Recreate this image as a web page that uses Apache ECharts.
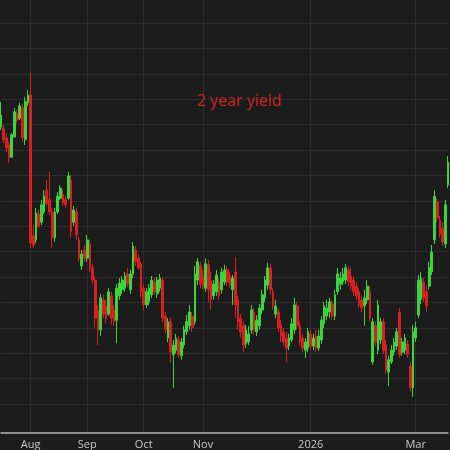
<!DOCTYPE html>
<html>
<head>
<meta charset="utf-8">
<script src="https://cdn.jsdelivr.net/npm/echarts@6/dist/echarts.min.js"></script>
<style>
  html, body { margin: 0; padding: 0; background: #1c1c1c; }
  #chart { width: 450px; height: 450px; }
</style>
</head>
<body>
<div id="chart"></div>
<script>
// daily candles, 17 Jul 2025 .. 18 Mar 2026 (trading days only)
var startDate = '2025-07-17';
var endDate = '2026-03-18';
var holidays = ['2025-09-01', '2025-10-13', '2025-11-11', '2025-11-27',
                '2025-12-25', '2026-01-01', '2026-01-19', '2026-02-16'];
var monthNames = ['Jan', 'Feb', 'Mar', 'Apr', 'May', 'Jun', 'Jul', 'Aug', 'Sep', 'Oct', 'Nov', 'Dec'];
// only these months get a label / vertical grid line
var tickLabels = ['Aug', 'Sep', 'Oct', 'Nov', '2026', 'Mar'];

var opens = [
  3.945, 3.943, 3.924, 3.910, 3.886, 3.926, 3.971, 3.963, 3.983, 3.920, 3.993,
  4.008, 3.731, 3.723, 3.774, 3.758, 3.778, 3.821, 3.802, 3.778, 3.727, 3.778,
  3.805, 3.813, 3.802, 3.805, 3.841, 3.758, 3.778, 3.723, 3.672, 3.703,
  3.687, 3.715, 3.668, 3.644, 3.585, 3.546, 3.605, 3.593, 3.577, 3.613, 3.585,
  3.565, 3.613, 3.625, 3.628, 3.656, 3.625, 3.656, 3.703, 3.687, 3.676,
  3.628, 3.595, 3.601, 3.615, 3.640, 3.617, 3.628, 3.644, 3.573, 3.530, 3.562,
  3.497, 3.506, 3.526, 3.495, 3.516, 3.542, 3.554, 3.573, 3.562, 3.644, 3.672,
  3.652, 3.628, 3.674, 3.644, 3.613, 3.621, 3.640, 3.625, 3.640, 3.664, 3.652,
  3.625, 3.660, 3.605, 3.569, 3.554, 3.518, 3.522,
  3.546, 3.581, 3.542, 3.554, 3.585, 3.609, 3.634, 3.668, 3.621, 3.577, 3.581,
  3.556, 3.542, 3.530, 3.514, 3.526, 3.546, 3.593, 3.554, 3.530,
  3.506, 3.510,
  3.538, 3.514, 3.534, 3.510, 3.526, 3.558, 3.573, 3.581, 3.597, 3.573, 3.621,
  3.636, 3.640, 3.644, 3.664, 3.652, 3.644, 3.632, 3.621, 3.605,
  3.593, 3.605, 3.621, 3.483, 3.554, 3.506, 3.526, 3.562, 3.516, 3.463, 3.483,
  3.502, 3.514, 3.581, 3.502, 3.506, 3.518, 3.475, 3.432,
  3.530, 3.575, 3.605, 3.640, 3.621, 3.632, 3.660, 3.723, 3.798, 3.762, 3.746,
  3.715, 3.831
];
var closes = [
  3.969, 3.920, 3.904, 3.884, 3.930, 3.975, 3.959, 3.987, 3.924, 3.995, 4.008,
  3.717, 3.713, 3.776, 3.750, 3.792, 3.809, 3.794, 3.778, 3.727, 3.778, 3.809,
  3.825, 3.796, 3.792, 3.849, 3.739, 3.782, 3.733, 3.687, 3.695, 3.687,
  3.723, 3.668, 3.644, 3.569, 3.546, 3.609, 3.577, 3.569, 3.621, 3.569, 3.562,
  3.628, 3.638, 3.644, 3.652, 3.636, 3.656, 3.711, 3.680, 3.668, 3.621,
  3.595, 3.621, 3.628, 3.644, 3.621, 3.644, 3.648, 3.569, 3.546, 3.562, 3.502,
  3.516, 3.530, 3.497, 3.522, 3.546, 3.562, 3.581, 3.550, 3.656, 3.680, 3.636,
  3.632, 3.676, 3.625, 3.605, 3.636, 3.654, 3.613, 3.660, 3.664, 3.640, 3.634,
  3.648, 3.595, 3.562, 3.542, 3.516, 3.546, 3.538,
  3.585, 3.546, 3.565, 3.589, 3.615, 3.644, 3.668, 3.625, 3.593, 3.593, 3.550,
  3.534, 3.522, 3.510, 3.530, 3.558, 3.595, 3.554, 3.522, 3.510,
  3.522, 3.542,
  3.514, 3.530, 3.510, 3.534, 3.565, 3.593, 3.589, 3.601, 3.573, 3.615, 3.656,
  3.648, 3.656, 3.668, 3.640, 3.632, 3.621, 3.613, 3.595, 3.589,
  3.609, 3.632, 3.569, 3.562, 3.522, 3.595, 3.562, 3.506, 3.467, 3.487, 3.506,
  3.522, 3.542, 3.497, 3.522, 3.530, 3.497, 3.432, 3.542,
  3.550, 3.644, 3.648, 3.609, 3.593, 3.668, 3.699, 3.809, 3.766, 3.735, 3.719,
  3.792, 3.876
];
var lows = [
  3.939, 3.914, 3.896, 3.874, 3.884, 3.924, 3.953, 3.959, 3.916, 3.910, 3.987,
  3.707, 3.707, 3.717, 3.746, 3.752, 3.774, 3.790, 3.772, 3.707, 3.719, 3.774,
  3.802, 3.790, 3.786, 3.802, 3.727, 3.750, 3.723, 3.680, 3.664, 3.680,
  3.680, 3.660, 3.636, 3.550, 3.516, 3.534, 3.569, 3.558, 3.573, 3.556, 3.554,
  3.520, 3.605, 3.617, 3.621, 3.630, 3.617, 3.648, 3.672, 3.664, 3.609,
  3.585, 3.589, 3.595, 3.609, 3.615, 3.609, 3.621, 3.562, 3.538, 3.522, 3.481,
  3.432, 3.500, 3.491, 3.487, 3.510, 3.536, 3.546, 3.542, 3.556, 3.634, 3.628,
  3.625, 3.621, 3.601, 3.585, 3.605, 3.613, 3.605, 3.617, 3.634, 3.632, 3.628,
  3.595, 3.569, 3.546, 3.530, 3.502, 3.510, 3.516,
  3.538, 3.536, 3.534, 3.546, 3.577, 3.601, 3.625, 3.615, 3.585, 3.569, 3.542,
  3.522, 3.514, 3.483, 3.506, 3.522, 3.538, 3.546, 3.514, 3.502,
  3.491, 3.502,
  3.506, 3.506, 3.502, 3.504, 3.518, 3.550, 3.565, 3.569, 3.565, 3.565, 3.615,
  3.625, 3.634, 3.636, 3.632, 3.625, 3.613, 3.605, 3.589, 3.581,
  3.554, 3.597, 3.562, 3.477, 3.514, 3.498, 3.518, 3.498, 3.459, 3.435, 3.479,
  3.495, 3.506, 3.491, 3.495, 3.498, 3.491, 3.424, 3.414,
  3.522, 3.569, 3.597, 3.601, 3.581, 3.625, 3.654, 3.715, 3.758, 3.727, 3.711,
  3.707, 3.825
];
var highs = [
  3.995, 3.949, 3.933, 3.916, 3.933, 3.983, 3.979, 3.993, 3.991, 4.004, 4.018,
  4.052, 3.752, 3.786, 3.782, 3.802, 3.821, 3.841, 3.857, 3.786, 3.786, 3.817,
  3.831, 3.821, 3.809, 3.857, 3.851, 3.790, 3.786, 3.729, 3.703, 3.713,
  3.733, 3.723, 3.676, 3.652, 3.595, 3.617, 3.615, 3.605, 3.628, 3.621, 3.595,
  3.636, 3.648, 3.652, 3.660, 3.668, 3.664, 3.719, 3.711, 3.695, 3.680,
  3.636, 3.628, 3.636, 3.652, 3.648, 3.650, 3.656, 3.650, 3.581, 3.569, 3.569,
  3.526, 3.538, 3.534, 3.530, 3.554, 3.575, 3.595, 3.581, 3.672, 3.687, 3.680,
  3.664, 3.687, 3.684, 3.660, 3.644, 3.664, 3.648, 3.668, 3.674, 3.672, 3.660,
  3.654, 3.689, 3.613, 3.577, 3.562, 3.556, 3.554,
  3.595, 3.589, 3.575, 3.597, 3.625, 3.652, 3.678, 3.676, 3.628, 3.605, 3.589,
  3.565, 3.550, 3.542, 3.538, 3.569, 3.609, 3.601, 3.562, 3.538,
  3.530, 3.550,
  3.546, 3.538, 3.546, 3.546, 3.573, 3.601, 3.605, 3.609, 3.605, 3.625, 3.668,
  3.660, 3.668, 3.676, 3.672, 3.668, 3.652, 3.640, 3.628, 3.615,
  3.625, 3.644, 3.632, 3.569, 3.562, 3.605, 3.569, 3.569, 3.526, 3.495, 3.516,
  3.530, 3.550, 3.589, 3.530, 3.538, 3.526, 3.483, 3.556,
  3.562, 3.654, 3.660, 3.648, 3.632, 3.680, 3.713, 3.821, 3.805, 3.770, 3.758,
  3.802, 3.888
];

// build trading-day categories
var dates = [];
var d = new Date(startDate + 'T00:00:00Z');
var end = new Date(endDate + 'T00:00:00Z');
while (d <= end) {
  var day = d.getUTCDay();
  var s = d.toISOString().slice(0, 10);
  if (day !== 0 && day !== 6 && holidays.indexOf(s) < 0) dates.push(s);
  d.setUTCDate(d.getUTCDate() + 1);
}

function monthLabel(value) {
  var m = parseInt(value.slice(5, 7), 10) - 1;
  return m === 0 ? value.slice(0, 4) : monthNames[m];
}

// first trading day of the labelled months gets a label and a grid line
var monthStart = {};
for (var i = 1; i < dates.length; i++) {
  if (dates[i].slice(5, 7) !== dates[i - 1].slice(5, 7) &&
      tickLabels.indexOf(monthLabel(dates[i])) >= 0) monthStart[i] = true;
}

var candles = [];
for (var j = 0; j < opens.length; j++) {
  candles.push([opens[j], closes[j], lows[j], highs[j]]);
}

var chart = echarts.init(document.getElementById('chart'));

option = {
    backgroundColor: '#1c1c1c',
    animation: false,
    title: {
        text: '2 year yield',
        left: 192,
        top: 88,
        textStyle: {
            color: '#d42525',
            fontSize: 16,
            fontWeight: 500,
            fontFamily: 'Open Sans'
        }
    },
    grid: [
        { left: 1, right: 2, top: 0, bottom: 17 },   // candles
        { left: 1, right: 2, top: 23, bottom: 46 }   // horizontal grid lines
    ],
    xAxis: [
        {
            type: 'category',
            gridIndex: 0,
            data: dates,
            boundaryGap: false,
            axisLine: { lineStyle: { color: '#b4b4b4', width: 1.5 } },
            axisTick: { show: false },
            axisLabel: {
                interval: function (index) { return !!monthStart[index]; },
                color: '#c8c8c8',
                fontSize: 11,
                fontFamily: 'Open Sans',
                margin: 6,
                formatter: monthLabel
            },
            splitLine: {
                show: true,
                interval: function (index) { return !!monthStart[index]; },
                lineStyle: { color: '#2d2d2d', width: 1 }
            }
        },
        {
            type: 'value',
            gridIndex: 1,
            min: 0,
            max: 1,
            show: false
        }
    ],
    yAxis: [
        {
            type: 'value',
            gridIndex: 0,
            min: 3.3429,
            max: 4.1953,
            show: false,
            splitLine: { show: false }
        },
        {
            type: 'value',
            gridIndex: 1,
            min: 3.40,
            max: 4.15,
            interval: 0.05,
            axisLine: { show: false },
            axisTick: { show: false },
            axisLabel: { show: false },
            splitLine: { show: true, lineStyle: { color: '#2d2d2d', width: 1 } }
        }
    ],
    series: [
        {
            name: '2 year yield',
            type: 'candlestick',
            xAxisIndex: 0,
            yAxisIndex: 0,
            data: candles,
            barWidth: 2.2,
            itemStyle: {
                color: '#3cd43c',
                color0: '#d82020',
                borderColor: '#3cd43c',
                borderColor0: '#d82020',
                borderWidth: 1
            }
        }
    ]
};

chart.setOption(option);
</script>
</body>
</html>
